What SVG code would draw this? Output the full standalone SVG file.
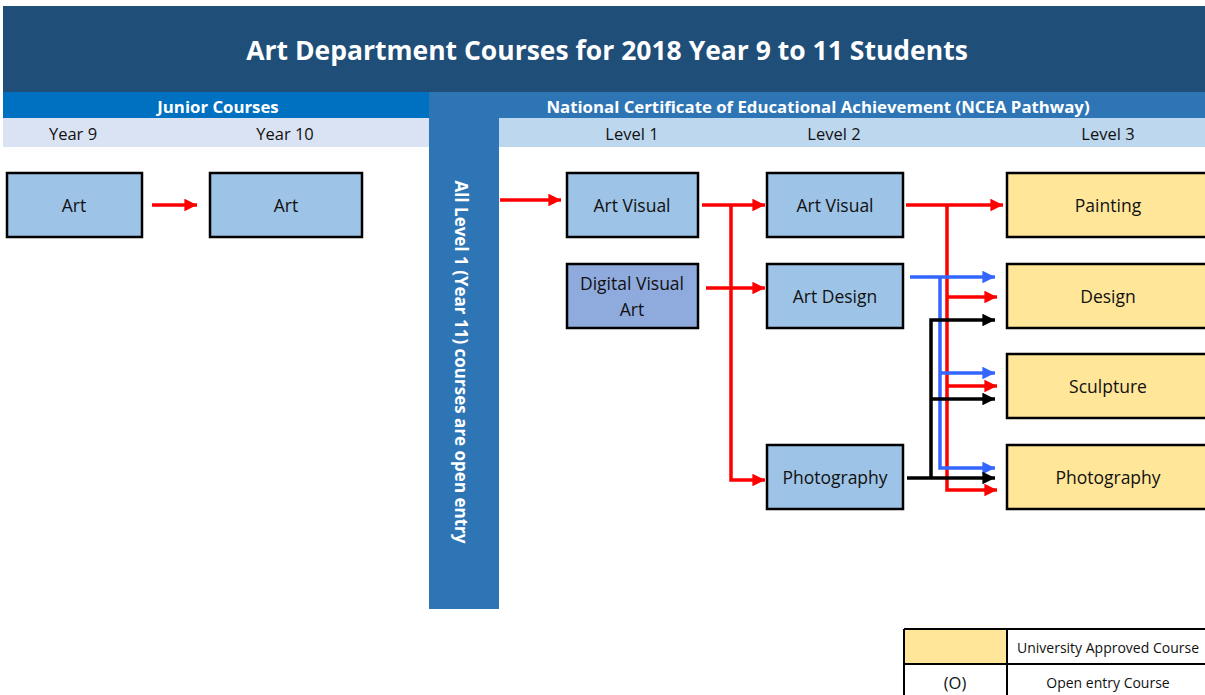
<svg xmlns="http://www.w3.org/2000/svg" width="1205" height="695" viewBox="0 0 1205 695">
<style>
text{font-family:"Open Sans","Noto Sans","Liberation Sans",sans-serif}
.box{fill:#9DC3E6;stroke:#000;stroke-width:2.5}
.dva{fill:#8FAADC;stroke:#000;stroke-width:2.5}
.uni{fill:#FFE699;stroke:#000;stroke-width:2.5}
.lbl{font-size:17.5px;fill:#111;text-anchor:middle;dominant-baseline:central}
.hdr{font-size:16.8px;font-weight:bold;fill:#fff;text-anchor:middle;dominant-baseline:central}
.yr{font-size:16.5px;fill:#111;text-anchor:middle;dominant-baseline:central}
.r{stroke:#FF0000;stroke-width:3.5;fill:none}
.b{stroke:#3366FF;stroke-width:3.5;fill:none}
.k{stroke:#000;stroke-width:3.5;fill:none}
.leg{font-size:14px;fill:#111;text-anchor:middle;dominant-baseline:central}
</style>
<defs>
<marker id="ar" viewBox="0 0 10 10" refX="10" refY="5" markerWidth="3.6" markerHeight="3.6" orient="auto" markerUnits="strokeWidth"><path d="M0,0L10,5L0,10z" fill="#FF0000"/></marker>
<marker id="ab" viewBox="0 0 10 10" refX="10" refY="5" markerWidth="3.6" markerHeight="3.6" orient="auto" markerUnits="strokeWidth"><path d="M0,0L10,5L0,10z" fill="#3366FF"/></marker>
<marker id="ak" viewBox="0 0 10 10" refX="10" refY="5" markerWidth="3.6" markerHeight="3.6" orient="auto" markerUnits="strokeWidth"><path d="M0,0L10,5L0,10z" fill="#000"/></marker>
</defs>
<g id="header">
<rect x="3" y="6" width="1202" height="86" fill="#1F4E79"/>
<text x="607" y="50" font-size="26.5" font-weight="bold" fill="#fff" text-anchor="middle" dominant-baseline="central">Art Department Courses for 2018 Year 9 to 11 Students</text>
<rect x="3" y="92" width="426" height="26" fill="#0070C0"/>
<rect x="429" y="92" width="776" height="26" fill="#2E75B6"/>
<text class="hdr" x="218" y="106">Junior Courses</text>
<text class="hdr" x="818" y="106">National Certificate of Educational Achievement (NCEA Pathway)</text>
<rect x="3" y="118" width="426" height="29" fill="#DAE3F3"/>
<rect x="499" y="118" width="706" height="29" fill="#BDD7EE"/>
<text class="yr" x="73" y="133">Year 9</text>
<text class="yr" x="285" y="133">Year 10</text>
<text class="yr" x="632" y="133">Level 1</text>
<text class="yr" x="834" y="133">Level 2</text>
<text class="yr" x="1108" y="133">Level 3</text>
</g>
<g id="open-entry-bar">
<rect x="429" y="118" width="70" height="491" fill="#2E75B6"/>
<text transform="translate(461,362) rotate(90)" font-size="17" font-weight="bold" fill="#fff" text-anchor="middle" dominant-baseline="central">All Level 1 (Year 11) courses are open entry</text>
</g>
<g id="n-art9"><rect class="box" x="7" y="173" width="135" height="64"/><text class="lbl" x="74" y="205">Art</text></g>
<g id="n-art10"><rect class="box" x="210" y="173" width="152" height="64"/><text class="lbl" x="286" y="205">Art</text></g>
<g id="n-av1"><rect class="box" x="567" y="173" width="131" height="64"/><text class="lbl" x="632" y="205">Art Visual</text></g>
<g id="n-dva"><rect class="dva" x="567" y="264" width="131" height="64"/><text class="lbl" x="632" y="283">Digital Visual</text><text class="lbl" x="632" y="309">Art</text></g>
<g id="n-av2"><rect class="box" x="767" y="173" width="136" height="64"/><text class="lbl" x="835" y="205">Art Visual</text></g>
<g id="n-ad2"><rect class="box" x="767" y="264" width="136" height="64"/><text class="lbl" x="835" y="296">Art Design</text></g>
<g id="n-ph2"><rect class="box" x="767" y="445" width="136" height="64"/><text class="lbl" x="835" y="477">Photography</text></g>
<g id="n-paint"><rect class="uni" x="1007" y="173" width="202" height="64"/><text class="lbl" x="1108" y="205">Painting</text></g>
<g id="n-design"><rect class="uni" x="1007" y="264" width="202" height="64"/><text class="lbl" x="1108" y="296">Design</text></g>
<g id="n-sculpt"><rect class="uni" x="1007" y="354" width="202" height="64"/><text class="lbl" x="1108" y="386">Sculpture</text></g>
<g id="n-ph3"><rect class="uni" x="1007" y="445" width="202" height="64"/><text class="lbl" x="1108" y="477">Photography</text></g>
<g id="connectors">
<path class="r" d="M152,205H197" marker-end="url(#ar)"/>
<path class="r" d="M500,200H561" marker-end="url(#ar)"/>
<path class="r" d="M702,205H765" marker-end="url(#ar)"/>
<path class="r" d="M731,205V480H765" marker-end="url(#ar)"/>
<path class="r" d="M706,288H765" marker-end="url(#ar)"/>
<path class="r" d="M906,205H1003" marker-end="url(#ar)"/>
<path class="r" d="M947,205V490H997" marker-end="url(#ar)"/>
<path class="r" d="M947,297H997" marker-end="url(#ar)"/>
<path class="r" d="M947,386H997" marker-end="url(#ar)"/>
<path class="b" d="M910,277H995" marker-end="url(#ab)"/>
<path class="b" d="M940,277V468H995" marker-end="url(#ab)"/>
<path class="b" d="M940,373H995" marker-end="url(#ab)"/>
<path class="k" d="M907,478H995" marker-end="url(#ak)"/>
<path class="k" d="M931,478V320H995" marker-end="url(#ak)"/>
<path class="k" d="M931,399H995" marker-end="url(#ak)"/>
</g>
<g id="legend">
<rect x="904" y="629" width="103" height="35" fill="#FFE699"/>
<path d="M904,629H1205M904,664H1205M904,629V695M1007,629V695" stroke="#000" stroke-width="2" fill="none"/>
<text class="leg" x="1108" y="647">University Approved Course</text>
<text class="leg" x="955" y="682" style="font-size:16.5px">(O)</text>
<text class="leg" x="1108" y="682">Open entry Course</text>
</g>
</svg>
